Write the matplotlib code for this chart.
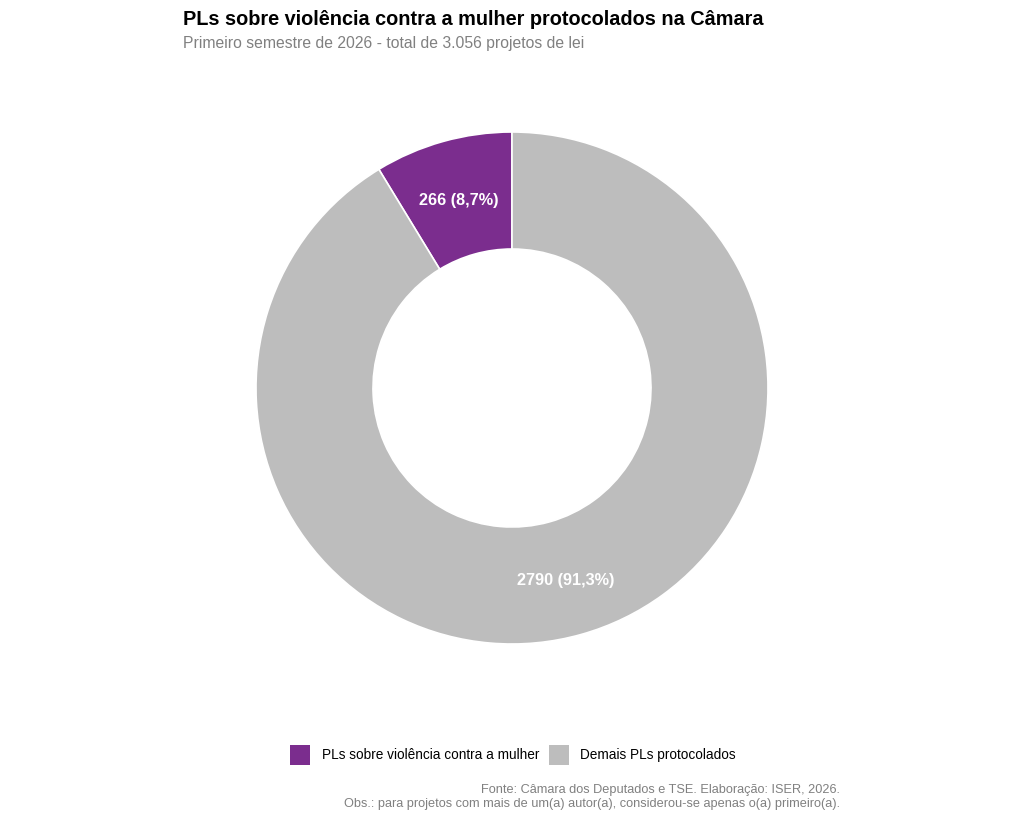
import matplotlib
matplotlib.use("Agg")
import matplotlib.pyplot as plt
from matplotlib.patches import Rectangle
import numpy as np

plt.rcParams['font.family'] = ['Liberation Sans', 'DejaVu Sans']

categories = ["PLs sobre violência contra a mulher", "Demais PLs protocolados"]
values = [266, 2790]
pct_labels = ["8,7%", "91,3%"]
colors = ["#7B2D8E", "#BDBDBD"]

title = "PLs sobre violência contra a mulher protocolados na Câmara"
subtitle = "Primeiro semestre de 2026 - total de 3.056 projetos de lei"
caption1 = "Fonte: Câmara dos Deputados e TSE. Elaboração: ISER, 2026."
caption2 = "Obs.: para projetos com mais de um(a) autor(a), considerou-se apenas o(a) primeiro(a)."

W, H = 1024, 819
fig = plt.figure(figsize=(W / 100, H / 100), dpi=100)
fig.patch.set_facecolor("white")

# pie axes: center (512, 388), radius 256 px
ax = fig.add_axes([(512 - 256) / W, (H - 644) / H, 512 / W, 512 / H])
wedges, texts = ax.pie(values, colors=colors, startangle=90, counterclock=True,
                       radius=1.0,
                       wedgeprops=dict(width=1 - 139 / 256, edgecolor="white", linewidth=1.2))
ax.set_xlim(-1, 1)
ax.set_ylim(-1, 1)
ax.set_aspect("equal")
ax.axis("off")

total = sum(values)
start = 90.0
r_lab = (1 + 139 / 256) / 2
for v, p in zip(values, pct_labels):
    span = 360.0 * v / total
    mid = np.deg2rad(start + span / 2)
    ax.text(r_lab * np.cos(mid), r_lab * np.sin(mid) - 0.01, f"{v} ({p})",
            ha="center", va="center", color="white", fontsize=11.7, fontweight="bold")
    start += span

fig.text(183 / W, 1 - 25 / H, title, fontsize=14.3, fontweight="bold", color="black",
         ha="left", va="baseline")
fig.text(183 / W, 1 - 48 / H, subtitle, fontsize=11.3, color="#808080",
         ha="left", va="baseline")

# legend
sq = 20
leg_items = [(290, 322), (549, 580)]
for (sx, tx), lab, c in zip(leg_items, categories, colors):
    fig.patches.append(Rectangle((sx / W, 1 - 765 / H), sq / W, sq / H, transform=fig.transFigure,
                                 facecolor=c, edgecolor="none"))
    fig.text(tx / W, 1 - 755 / H, lab, fontsize=9.8, color="black", ha="left", va="center")

fig.text(840 / W, 1 - 793 / H, caption1, fontsize=9.15, color="#808080", ha="right", va="baseline")
fig.text(840 / W, 1 - 807 / H, caption2, fontsize=9.15, color="#808080", ha="right", va="baseline")

fig.savefig("out.png", dpi=100, facecolor="white")
